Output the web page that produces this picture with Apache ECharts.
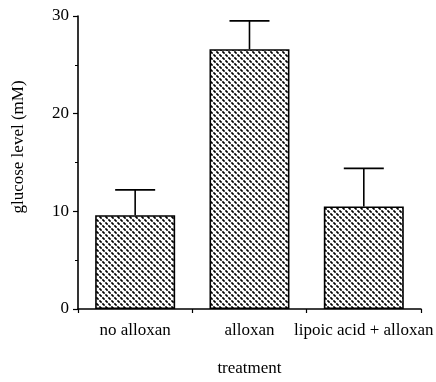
<!DOCTYPE html>
<html>
<head>
<meta charset="utf-8">
<script src="https://cdn.jsdelivr.net/npm/echarts@6/dist/echarts.min.js"></script>
<style>html,body{margin:0;padding:0;background:#fff}#c{width:436px;height:382px}</style>
</head>
<body>
<div id="c"></div>
<script>
const categories = ['no alloxan', 'alloxan', 'lipoic acid + alloxan'];
const meanValues = [9.6, 26.6, 10.5];
const upperValues = [12.2, 29.5, 14.4];
const yTicks = [0, 10, 20, 30];

const FONT = '"Liberation Serif", "DejaVu Serif", serif';

function makePattern() {
  const c = document.createElement('canvas');
  c.width = 6; c.height = 6;
  const g = c.getContext('2d');
  g.fillStyle = '#fff';
  g.fillRect(0, 0, 6, 6);
  g.strokeStyle = '#000';
  g.lineWidth = 1.6;
  g.lineCap = 'butt';
  g.beginPath();
  g.moveTo(0.4, 3.4); g.lineTo(2.6, 5.6);
  g.moveTo(3.4, 0.4); g.lineTo(5.6, 2.6);
  g.stroke();
  return c;
}

const chart = echarts.init(document.getElementById('c'), null, {renderer: 'canvas'});
chart.setOption({
  animation: false,
  backgroundColor: '#fff',
  grid: {left: 78, right: 12, top: 16, bottom: 63, containLabel: false},
  xAxis: {
    type: 'category',
    data: categories,
    name: 'treatment',
    nameLocation: 'middle',
    nameGap: 51,
    nameTextStyle: {fontFamily: FONT, fontSize: 17, color: '#000'},
    axisLine: {lineStyle: {color: '#000', width: 1.6}},
    axisTick: {show: true, length: 4, lineStyle: {color: '#000', width: 1.2}},
    axisLabel: {fontFamily: FONT, fontSize: 17, color: '#000', margin: 13, interval: 0}
  },
  yAxis: {
    type: 'value',
    min: 0, max: 30, interval: 10,
    axisLine: {show: true, lineStyle: {color: '#000', width: 1.6}},
    axisTick: {show: true, length: 5, lineStyle: {color: '#000', width: 1.2}},
    minorTick: {show: true, splitNumber: 2, length: 3, lineStyle: {color: '#000', width: 1}},
    splitLine: {show: false},
    axisLabel: {fontFamily: FONT, fontSize: 17, color: '#000', margin: 9,
      formatter: v => yTicks.includes(v) ? String(v) : ''}
  },
  graphic: [{
    type: 'text',
    x: 19, y: 147,
    rotation: Math.PI / 2,
    style: {text: 'glucose level (mM)', fontFamily: FONT, fontSize: 17, fill: '#000',
      align: 'center', verticalAlign: 'middle'}
  }],
  series: [{
    type: 'bar',
    data: meanValues,
    barWidth: 80,
    itemStyle: {
      color: {image: makePattern(), repeat: 'repeat'},
      borderColor: '#000', borderWidth: 1.6
    },
    z: 2
  }, {
    type: 'custom',
    data: upperValues.map((u, i) => [i, meanValues[i], u]),
    renderItem: function (params, api) {
      const i = api.value(0);
      const top = api.coord([i, api.value(2)]);
      const base = api.coord([i, api.value(1)]);
      const half = 20;
      return {
        type: 'group',
        children: [
          {type: 'line', shape: {x1: top[0], y1: base[1], x2: top[0], y2: top[1]},
            style: {stroke: '#000', lineWidth: 1.6}},
          {type: 'line', shape: {x1: top[0] - half, y1: top[1], x2: top[0] + half, y2: top[1]},
            style: {stroke: '#000', lineWidth: 1.6}}
        ]
      };
    },
    z: 3
  }]
});
</script>
</body>
</html>
